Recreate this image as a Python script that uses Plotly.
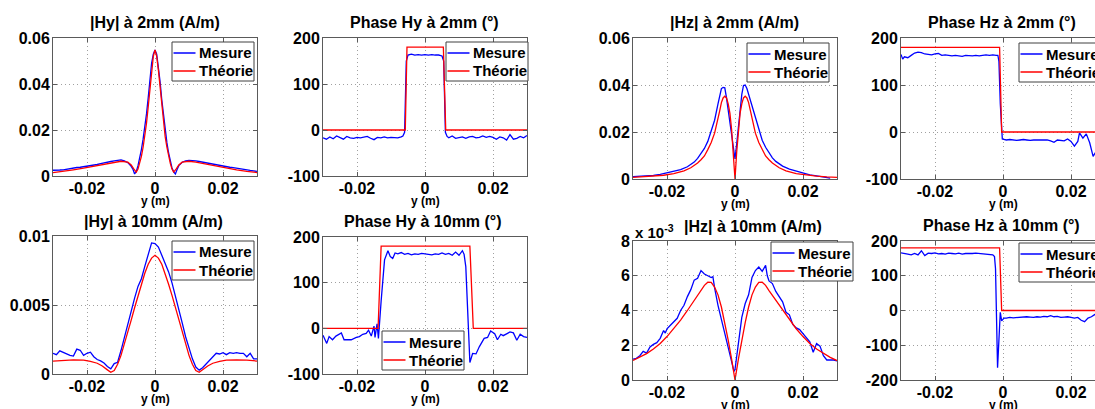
import plotly.graph_objects as go

W, H = 1095, 409
FONT = "Liberation Sans, Arial, Helvetica, sans-serif"
BLUE = "#0000ff"
RED = "#ff0000"

# ---------------- data (x positions in mm) ----------------
# |Hy| at 2 mm (A/m)
hy2_the_x = [-30, -27, -24, -21, -18, -15, -12, -10, -8, -7, -6.3, -5.5, -5, -4.5, -4, -3.5, -3, -2.5, -2, -1.5, -1, -0.5,
             0, 0.5, 1, 1.5, 2, 2.5, 3, 3.5, 4, 4.5, 5, 5.5, 6.3, 7, 8, 10, 12, 15, 18, 21, 24, 27, 30]
hy2_the_y = [0.0015, 0.0020, 0.0027, 0.0034, 0.0042, 0.0051, 0.0060, 0.0064, 0.0060, 0.0048, 0.0032, 0.0017, 0.0030,
             0.0055, 0.0085, 0.0125, 0.0170, 0.0230, 0.0300, 0.0380, 0.0460, 0.0520, 0.0548, 0.0520, 0.0460, 0.0380,
             0.0300, 0.0230, 0.0170, 0.0125, 0.0085, 0.0055, 0.0030, 0.0017, 0.0032, 0.0048, 0.0060, 0.0064, 0.0060,
             0.0051, 0.0042, 0.0034, 0.0027, 0.0020, 0.0015]
hy2_mes_x = [-30, -29, -28, -27, -26, -25, -24, -23, -22, -21, -20, -19, -18, -17, -16, -15, -14, -13, -12, -11, -10, -9,
             -8, -7, -6.5, -6, -5.5, -5, -4.5, -4, -3.5, -3, -2.5, -2, -1.5, -1, -0.5, 0, 0.5, 1, 1.5, 2, 2.5, 3, 3.5,
             4, 4.5, 5, 5.5, 6, 6.5, 7, 8, 9, 10, 11, 12, 13, 14, 15, 16, 17, 18, 19, 20, 21, 22, 23, 24, 25, 26, 27,
             28, 29, 30]
hy2_mes_y = [0.0025, 0.0024, 0.0026, 0.0027, 0.0030, 0.0031, 0.0034, 0.0037, 0.0038, 0.0040, 0.0042, 0.0043, 0.0046,
             0.0050, 0.0054, 0.0056, 0.0058, 0.0063, 0.0066, 0.0068, 0.0070, 0.0066, 0.0058, 0.0042,
             0.0030, 0.0009, 0.0020, 0.0045, 0.0075, 0.0115, 0.0160, 0.0210, 0.0270, 0.0340, 0.0420, 0.0490, 0.0530,
             0.0548,
             0.0530, 0.0480, 0.0410, 0.0330, 0.0260, 0.0200, 0.0145, 0.0100, 0.0065, 0.0035, 0.0018, 0.0009, 0.0028,
             0.0045, 0.0060, 0.0066, 0.0068, 0.0068, 0.0066, 0.0063, 0.0060, 0.0058, 0.0055, 0.0050, 0.0048, 0.0045,
             0.0042, 0.0039, 0.0038, 0.0036, 0.0033, 0.0031, 0.0028, 0.0026, 0.0024, 0.0022, 0.0020]

# Phase Hy at 2 mm (deg)
phy2_the_x = [-30, -5.8, -5.3, 5.4, 6.1, 30]
phy2_the_y = [0, 0, 180, 180, 0, 0]
phy2_mes_x = [-30, -29, -28, -27, -26, -25, -24, -23, -22, -21, -20, -19, -18, -17, -16, -15, -14, -13, -12, -11, -10,
              -9, -8, -7, -6.5, -6, -5.5, -5, -4, -3, -2, -1, 0, 1, 2, 3, 4, 5, 5.5, 6, 6.5,
              7, 8, 9, 10, 11, 12, 13, 14, 15, 16, 17, 18, 19, 20, 21, 22, 23, 24, 25, 26, 27, 28, 29, 30]
phy2_mes_y = [-17, -20, -15, -19, -13, -17, -20, -14, -17, -18, -16, -17, -15, -14, -18, -21, -16, -17, -15, -17, -16,
              -16, -17, -15, -13, -5, 150, 163, 165, 163, 164, 163, 164, 163, 164, 163, 163, 161, 150, -5, -14,
              -17, -13, -18, -17, -15, -18, -15, -14, -17, -16, -13, -16, -14, -16, -20, -15, -17, -22, -10, -20, -18,
              -14, -17, -12]

# |Hz| at 2 mm (A/m)
hz2_the_x = [-30, -27, -24, -21, -18, -15, -13, -11, -10, -9, -8, -7, -6, -5, -4.5, -4, -3.5, -3, -2.5, -2, -1.5, -1,
             -0.5, 0, 0.5, 1, 1.5, 2, 2.5, 3, 3.5, 4, 4.5, 5, 6, 7, 8, 9, 10, 11, 13, 15, 18, 21, 24, 27, 30]
hz2_the_y = [0.0007, 0.0009, 0.0012, 0.0016, 0.0023, 0.0035, 0.0048, 0.0068, 0.0082, 0.0098, 0.0125, 0.0155, 0.0195,
             0.0250, 0.0290, 0.0325, 0.0345, 0.0352, 0.0345, 0.0320, 0.0280, 0.0210, 0.0115, 0.0,
             0.0115, 0.0210, 0.0280, 0.0320, 0.0345, 0.0352, 0.0345, 0.0325, 0.0290, 0.0250, 0.0195, 0.0155, 0.0125,
             0.0098, 0.0082, 0.0068, 0.0048, 0.0035, 0.0023, 0.0016, 0.0012, 0.0009, 0.0007]
hz2_mes_x = [-30, -28, -26, -24, -22, -20, -18, -16, -14, -12, -11, -10, -9, -8, -7, -6, -5, -4.5, -4, -3.5, -3, -2.5,
             -2, -1.5, -1, -0.5, 0, 0.5, 1, 1.5, 2, 2.5, 3, 3.5, 4, 5, 6, 7, 8, 9, 10, 11, 12, 14, 16, 18, 20, 22, 24,
             26, 28]
hz2_mes_y = [0.0010, 0.0011, 0.0013, 0.0015, 0.0020, 0.0026, 0.0031, 0.0040, 0.0052, 0.0072, 0.0088, 0.0110, 0.0130,
             0.0160, 0.0205, 0.0250, 0.0320, 0.0360, 0.0385, 0.0390, 0.0388, 0.0345, 0.0290, 0.0235, 0.0180, 0.0125,
             0.0085, 0.0150, 0.0220, 0.0290, 0.0360, 0.0398, 0.0400, 0.0385, 0.0360, 0.0320, 0.0260, 0.0210, 0.0165,
             0.0135, 0.0110, 0.0090, 0.0075, 0.0055, 0.0042, 0.0033, 0.0025, 0.0018, 0.0013, 0.0008, 0.0004]

# Phase Hz at 2 mm (deg)
phz2_the_x = [-30, -1, -0.4, 30]
phz2_the_y = [180, 180, 0, 0]
phz2_mes_x = [-30, -29.5, -29, -28, -27, -26, -25, -24, -23, -22, -21, -20, -19, -18, -17, -16, -15, -14, -13, -12, -11,
              -10, -9, -8, -7, -6, -5, -4, -3, -2, -1.5, -1.2, -0.8, -0.2, 1, 2, 3, 4, 5, 6, 7, 8, 9, 10, 11, 12, 13,
              14, 15, 16, 17, 18, 19, 20, 21, 22, 22.5, 23.5, 24.5, 25.5, 26.5, 27.5, 28.5, 30]
phz2_mes_y = [165, 155, 160, 158, 163, 168, 170, 169, 166, 165, 164, 166, 167, 163, 164, 163, 162, 163, 162, 161, 163,
              162, 162, 163, 162, 163, 164, 163, 164, 163, 163, 150, 60, -15, -17, -16, -17, -18, -17, -16, -17, -18,
              -17, -17, -18, -18, -17, -19, -22, -17, -18, -19, -15, -20, -30, -20, -2, -13, -4, -23, -52, -40, -45, -30]

# |Hy| at 10 mm (A/m)
hy10_the_x = [-30, -27, -24, -21, -19, -17, -15.5, -14, -13, -12, -11, -10, -9, -8, -7, -6, -5, -4, -3, -2, -1, 0,
              1, 2, 3, 4, 5, 6, 7, 8, 9, 10, 11, 12, 13, 14, 15.5, 17, 19, 21, 24, 27, 30]
hy10_the_y = [0.00094, 0.00100, 0.00103, 0.00100, 0.00092, 0.00078, 0.00058, 0.00030, 0.00012, 0.00025, 0.00070,
              0.00135, 0.00215, 0.00300, 0.00390, 0.00480, 0.00570, 0.00650, 0.00730, 0.00795, 0.00840, 0.00860,
              0.00840, 0.00795, 0.00730, 0.00650, 0.00570, 0.00480, 0.00390, 0.00300, 0.00215, 0.00135, 0.00070,
              0.00025, 0.00012, 0.00030, 0.00058, 0.00078, 0.00092, 0.00100, 0.00103, 0.00100, 0.00094]
hy10_mes_x = [-30, -29, -28, -27, -26, -25, -24, -23, -22, -21, -20, -19, -18, -17, -16, -15, -14, -13, -12, -11, -10,
              -9, -8, -7, -6, -5, -4, -3, -2, -1, 0, 1, 2, 3, 4, 5, 6, 7, 8, 9, 10, 11, 12, 13, 14, 15, 16, 17, 18, 19,
              20, 21, 22, 23, 24, 25, 26, 27, 28, 29, 30]
hy10_mes_y = [0.00150, 0.00140, 0.00168, 0.00155, 0.00148, 0.00135, 0.00130, 0.00180, 0.00172, 0.00135, 0.00150,
              0.00158, 0.00125, 0.00105, 0.00095, 0.00080, 0.00055, 0.00038, 0.00075, 0.00085, 0.00170, 0.00270,
              0.00365, 0.00460, 0.00550, 0.00635, 0.00690, 0.00780, 0.00860, 0.00950, 0.00945, 0.00920, 0.00860,
              0.00800, 0.00740, 0.00660, 0.00570, 0.00470, 0.00370, 0.00270, 0.00190, 0.00110, 0.00050, 0.00028,
              0.00045, 0.00070, 0.00100, 0.00120, 0.00150, 0.00145, 0.00155, 0.00140, 0.00155, 0.00150, 0.00155,
              0.00150, 0.00150, 0.00125, 0.00150, 0.00110, 0.00110]

# Phase Hy at 10 mm (deg)
phy10_the_x = [-30, -13.8, -12.9, 13.2, 14.2, 30]
phy10_the_y = [0, 0, 180, 180, 0, 0]
phy10_mes_x = [-30, -28.9, -28.2, -27.2, -26.2, -24.6, -23.8, -21.7, -20.2, -19.3, -18.3, -17.3, -16.6, -15.8, -15.0,
               -14.7, -14.1, -13.7, -12.9, -11.9, -10.9, -10.2, -9.5, -8.8, -8, -7, -6, -5, -4, -3, -2, -1, 0, 1, 2,
               3, 4, 5, 6, 7, 8, 9, 10, 11, 11.5, 12, 12.5, 13.2, 14, 15, 16, 17.4, 18.4, 19.3, 20.5, 21.3, 22.3, 23,
               24, 25, 26, 27, 28, 29, 30]
phy10_mes_y = [-15, -33, -18, -25, -17, -10, -25, -25, -20, -18, -13, -11, -4, -17, 5, -20, 10, -22, 60, 150, 170,
               157, 153, 165, 163, 166, 162, 164, 161, 163, 162, 164, 163, 162, 161, 163, 162, 165, 162, 164, 160, 167,
               160, 170, 162, 135, 40, -75, -55, -56, -40, -22, -20, -6, -12, -25, -13, -16, -12, -8, -10, -26, -13,
               -18, -20]

# |Hz| at 10 mm (x 1e-3 A/m)
hz10_the_x = [-30, -28, -26, -24, -22, -20, -18, -16, -14, -12, -10, -9, -8, -7, -6, -5, -4, -3, -2, -1, 0,
              1, 2, 3, 4, 5, 6, 7, 8, 9, 10, 12, 14, 16, 18, 20, 22, 24, 26, 28, 30]
hz10_the_y = [1.12, 1.30, 1.52, 1.78, 2.10, 2.50, 2.95, 3.45, 4.00, 4.60, 5.15, 5.45, 5.63, 5.62, 5.35, 4.90, 4.20,
              3.30, 2.30, 1.20, 0.0, 1.20, 2.30, 3.30, 4.20, 4.90, 5.35, 5.62, 5.63, 5.45, 5.15, 4.60, 4.00, 3.45,
              2.95, 2.50, 2.10, 1.78, 1.52, 1.30, 1.12]
hz10_mes_x = [-30, -29, -28, -27, -26, -25, -24, -23, -22, -21, -20.5, -20, -19, -18, -17, -16, -15, -14, -13, -12,
              -11, -10, -9, -8, -7, -6.5, -6, -5, -4, -3, -2, -1, -0.3, 0, 0.5, 1, 2, 3, 4, 5, 6, 7, 8, 9, 9.5, 10,
              11, 12, 13, 14, 15, 16, 17, 18, 19, 20, 21, 22, 23, 24, 25, 26, 27, 28, 29, 30]
hz10_mes_y = [1.20, 1.25, 1.40, 1.65, 1.55, 1.90, 2.05, 2.15, 2.40, 2.85, 2.70, 2.95, 3.15, 3.35, 3.55, 4.00, 4.30,
              4.80, 5.20, 5.75, 5.85, 6.30, 6.10, 6.00, 5.90, 5.95, 5.30, 4.30, 3.50, 2.60, 1.80, 1.00, 0.50, 0.60,
              1.40, 2.30, 3.60, 4.40, 4.90, 5.90, 6.30, 6.50, 6.25, 6.60, 6.00, 5.70, 5.55, 5.10, 4.80, 4.50, 3.90,
              3.75, 3.20, 3.00, 2.90, 2.65, 2.45, 2.20, 1.60, 2.10, 1.95, 1.40, 1.15, 1.15, 1.15, 1.10]

# Phase Hz at 10 mm (deg)
phz10_the_x = [-30, -1, -0.4, 30]
phz10_the_y = [180, 180, 0, 0]
phz10_mes_x = [-30, -29, -28, -27, -26, -25, -24, -23, -22, -21, -20, -19, -18, -17, -16, -15, -14, -13, -12, -11, -10,
               -9, -8, -7, -6, -5, -4, -3, -2.5, -2.2, -1.6, -1.2, -0.8, -0.4, 0.3, 1, 2, 3, 4, 5, 6, 7, 8, 9, 10, 11,
               12, 13, 14, 15, 16, 17, 18, 19, 20, 21, 22, 23, 24, 25, 26, 27, 28, 29, 30]
phz10_mes_y = [166, 163, 162, 160, 164, 160, 172, 158, 165, 164, 166, 163, 164, 162, 165, 164, 163, 165, 162, 164, 163,
               164, 165, 164, 163, 164, 162, 160, 155, 120, -165, -60, -5, -30, -22, -22, -20, -21, -20, -19, -20, -18,
               -19, -20, -18, -19, -17, -18, -15, -18, -17, -20, -19, -18, -20, -22, -20, -28, -32, -22, -18, -10, -5,
               -3, 0]

x_tick_vals = [-0.02, 0, 0.02]
x_tick_text = ["-0.02", "0", "0.02"]
legend_names = ["Mesure", "Théorie"]


# ---------------- layout helpers (pixel geometry) ----------------
def px(x):
    return x / W


def py(y):
    return 1 - y / H


panels = [
    dict(title="|Hy| à 2mm (A/m)", mes=(hy2_mes_x, hy2_mes_y), the=(hy2_the_x, hy2_the_y),
         box=(53, 257, 38, 176), yr=[0, 0.06], yt=[0, 0.02, 0.04, 0.06], ytt=["0", "0.02", "0.04", "0.06"],
         txy=(155, 23), leg=(172, 42)),
    dict(title="Phase Hy à 2mm (°)", mes=(phy2_mes_x, phy2_mes_y), the=(phy2_the_x, phy2_the_y),
         box=(323, 527, 38, 176), yr=[-100, 200], yt=[-100, 0, 100, 200], ytt=["-100", "0", "100", "200"],
         txy=(424, 23), leg=(446, 42)),
    dict(title="|Hz| à 2mm (A/m)", mes=(hz2_mes_x, hz2_mes_y), the=(hz2_the_x, hz2_the_y),
         box=(633, 837, 38, 179), yr=[0, 0.06], yt=[0, 0.02, 0.04, 0.06], ytt=["0", "0.02", "0.04", "0.06"],
         txy=(734, 23), leg=(747, 43)),
    dict(title="Phase Hz à 2mm (°)", mes=(phz2_mes_x, phz2_mes_y), the=(phz2_the_x, phz2_the_y),
         box=(901, 1095, 38, 179), yr=[-100, 200], yt=[-100, 0, 100, 200], ytt=["-100", "0", "100", "200"],
         txy=(1002, 23), leg=(1019, 43), clip=True),
    dict(title="|Hy| à 10mm (A/m)", mes=(hy10_mes_x, hy10_mes_y), the=(hy10_the_x, hy10_the_y),
         box=(53, 257, 236, 374), yr=[0, 0.01], yt=[0, 0.005, 0.01], ytt=["0", "0.005", "0.01"],
         txy=(153, 222), leg=(172, 241)),
    dict(title="Phase Hy à 10mm (°)", mes=(phy10_mes_x, phy10_mes_y), the=(phy10_the_x, phy10_the_y),
         box=(323, 527, 237, 374), yr=[-100, 200], yt=[-100, 0, 100, 200], ytt=["-100", "0", "100", "200"],
         txy=(423, 221), leg=(382, 331)),
    dict(title="|Hz| à 10mm (A/m)", mes=(hz10_mes_x, hz10_mes_y), the=(hz10_the_x, hz10_the_y),
         box=(633, 837, 241, 380), yr=[0, 8], yt=[0, 2, 4, 6, 8], ytt=["0", "2", "4", "6", "8"],
         txy=(753, 227), leg=(771, 242)),
    dict(title="Phase Hz à 10mm (°)", mes=(phz10_mes_x, phz10_mes_y), the=(phz10_the_x, phz10_the_y),
         box=(901, 1095, 241, 380), yr=[-200, 200], yt=[-200, -100, 0, 100, 200],
         ytt=["-200", "-100", "0", "100", "200"], txy=(1001, 225), leg=(1019, 243), clip=True),
]

fig = go.Figure()
annotations = []
shapes = []
layout_axes = {}

AXC = "#5a5a5a"
GRIDC = "#a0a0a0"
PX_PER_UNIT = 204 / 0.06  # full panel spans 204 px for 0.06 m

for i, p in enumerate(panels, start=1):
    xa = "x" if i == 1 else f"x{i}"
    ya = "y" if i == 1 else f"y{i}"
    x0, x1, y0, y1 = p["box"]
    x_end = -0.03 + (x1 - x0) / PX_PER_UNIT  # right-hand panels are cut by the picture edge
    for (xs, ys), color, nm in ((p["mes"], BLUE, legend_names[0]), (p["the"], RED, legend_names[1])):
        fig.add_trace(go.Scatter(
            x=[v / 1000 for v in xs], y=ys, mode="lines",
            line=dict(color=color, width=1.3), name=nm,
            showlegend=False, xaxis=xa, yaxis=ya, hoverinfo="skip"))
    common = dict(showgrid=True, gridcolor=GRIDC, griddash="1px,3px", gridwidth=1, zeroline=False,
                  showline=True, linecolor=AXC, linewidth=1, ticks="inside", ticklen=4, automargin=False,
                  tickcolor=AXC, tickfont=dict(size=16, family=FONT, color="black", weight="bold"))
    layout_axes["xaxis" if i == 1 else f"xaxis{i}"] = dict(
        domain=[px(x0), px(x1)], range=[-0.03, x_end], anchor=ya,
        tickmode="array", tickvals=x_tick_vals, ticktext=x_tick_text,
        mirror="ticks", ticklabelstandoff=-2, **common)
    layout_axes["yaxis" if i == 1 else f"yaxis{i}"] = dict(
        domain=[py(y1), py(y0)], range=p["yr"], anchor=xa,
        tickmode="array", tickvals=p["yt"], ticktext=p["ytt"],
        mirror=(False if p.get("clip") else "ticks"), ticklabelstandoff=-1, **common)

    # title
    tx, ty = p["txy"]
    annotations.append(dict(text=p["title"], x=px(tx), y=py(ty), xref="paper", yref="paper",
                            xanchor="center", yanchor="middle", showarrow=False,
                            font=dict(size=16, family=FONT, color="black", weight="bold")))
    # x label, below the tick labels
    annotations.append(dict(text="y (m)", x=px(x0 + 102), y=py(y1 + 25), xref="paper", yref="paper",
                            xanchor="center", yanchor="middle", showarrow=False,
                            font=dict(size=12, family=FONT, color="black", weight="bold")))
    # legend box
    lx, ly = p["leg"]
    shapes.append(dict(type="rect", xref="paper", yref="paper", x0=px(lx), x1=px(lx + 82),
                       y0=py(ly + 39), y1=py(ly), line=dict(color="#404040", width=1), fillcolor="white",
                       layer="above"))
    for k, (nm, color) in enumerate(zip(legend_names, (BLUE, RED))):
        yy = ly + 11 + 18 * k
        shapes.append(dict(type="line", xref="paper", yref="paper", x0=px(lx + 1.5), x1=px(lx + 23.5),
                           y0=py(yy), y1=py(yy), line=dict(color=color, width=1.5), layer="above"))
        annotations.append(dict(text=nm, x=px(lx + 25), y=py(yy), xref="paper", yref="paper",
                                xanchor="left", yanchor="middle", showarrow=False,
                                font=dict(size=15, family=FONT, color="black", weight="bold")))

# exponent label for |Hz| at 10 mm
annotations.append(dict(text="x 10<sup>-3</sup>", x=px(633), y=py(232), xref="paper", yref="paper",
                        xanchor="left", yanchor="middle", showarrow=False,
                        font=dict(size=15, family=FONT, color="black", weight="bold")))

fig.update_layout(
    width=W, height=H, autosize=False,
    margin=dict(l=0, r=0, t=0, b=0, pad=0, autoexpand=False),
    paper_bgcolor="white", plot_bgcolor="white",
    font=dict(family=FONT, size=15, color="black"),
    showlegend=False, annotations=annotations, shapes=shapes, **layout_axes)

# remove the default 8px page margin so the figure fills the window exactly
fig.write_html("out.html", config={"displayModeBar": False},
               post_script="document.body.style.margin='0px';document.body.style.overflow='hidden';")
